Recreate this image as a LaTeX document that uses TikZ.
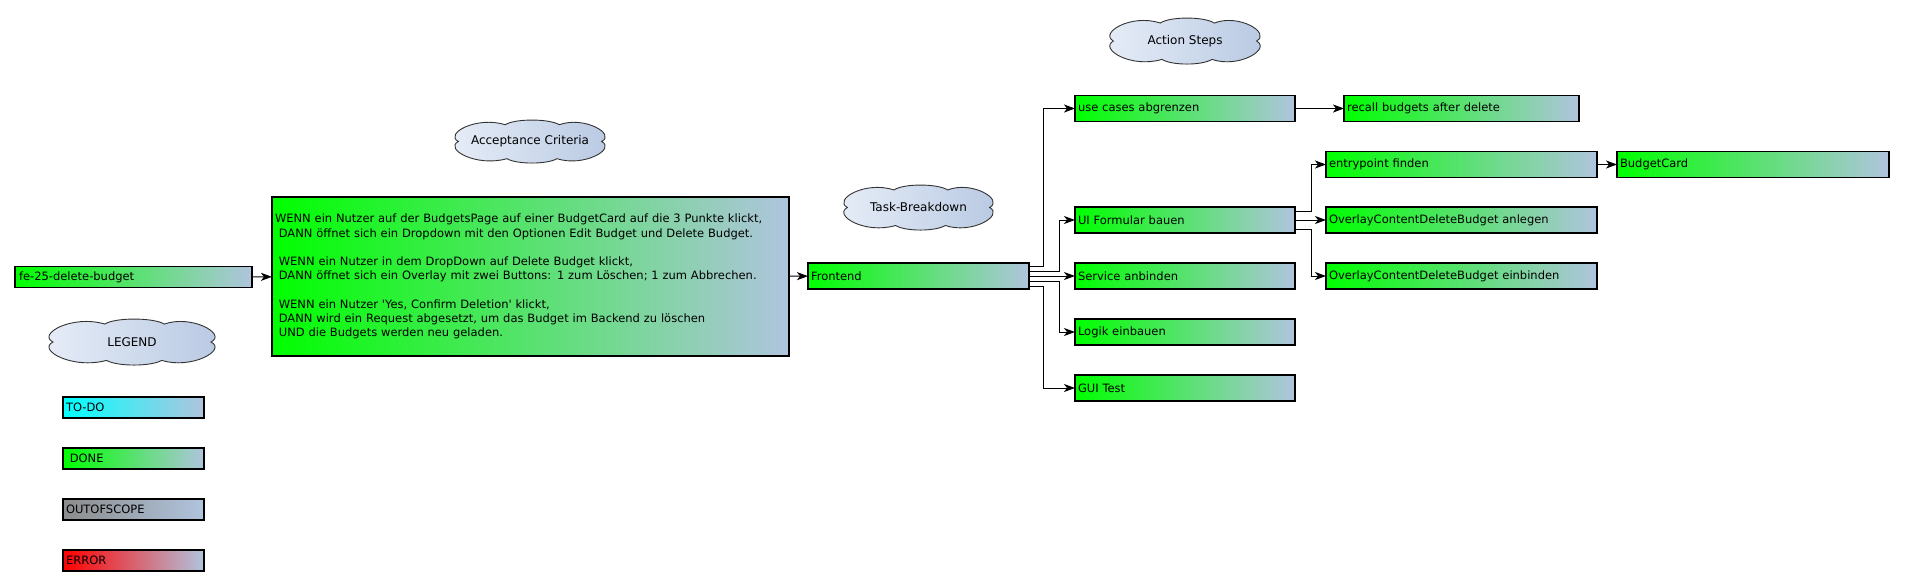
\documentclass[tikz,border=0pt]{standalone}
\usepackage{fontspec}
\setmainfont{DejaVu Sans}[Ligatures=TeXOff]
\usetikzlibrary{arrows.meta}
\definecolor{lsb}{RGB}{176,196,222}
\definecolor{gr}{RGB}{0,255,0}
\definecolor{cy}{RGB}{0,255,255}
\definecolor{gy}{RGB}{140,140,140}
\definecolor{rd}{RGB}{255,0,0}
\definecolor{cl}{RGB}{232,238,248}
\definecolor{cr}{RGB}{183,200,226}
\tikzset{
  box/.style={draw=black, line width=1.1pt, rectangle, inner xsep=3pt, inner ysep=0pt, outer sep=0pt,
    align=left, anchor=center, right color=lsb, font=\fontsize{11.5}{14.2}\selectfont},
  done/.style={box, left color=gr},
  todo/.style={box, left color=cy},
  oos/.style={box, left color=gy},
  err/.style={box, left color=rd},
  bubbleline/.style={draw=black!80, line width=0.9pt, left color=cl, right color=cr},
  bubbletext/.style={inner sep=0pt, font=\fontsize{12}{14}\selectfont},
  arr/.style={draw=black, line width=1pt, -{Stealth[length=11pt,width=8pt,inset=3pt]}},
}
% name, x, y, width, height, text
\newcommand\mycloud[6]{%
  \begin{scope}[shift={(#2,#3)}, xscale=#4/2, yscale=-#5/2]
    \path[bubbleline] (-0.93,0)
      .. controls (-1.12,0.35) and (-0.7,1.2) .. (-0.32,0.78)
      .. controls (-0.2,1.07) and (0.25,1.07) .. (0.38,0.78)
      .. controls (0.7,1.2) and (1.12,0.35) .. (0.93,0)
      .. controls (1.12,-0.35) and (0.7,-1.2) .. (0.35,-0.8)
      .. controls (0.22,-1.07) and (-0.17,-1.07) .. (-0.3,-0.8)
      .. controls (-0.7,-1.2) and (-1.12,-0.35) .. (-0.93,0) -- cycle;
  \end{scope}
  \node[bubbletext] (#1) at (#2,#3) {#6};
}
\begin{document}
\begin{tikzpicture}[x=1pt,y=-1pt]
\useasboundingbox (0,0) rectangle (1905,586);
% clouds
\mycloud{accl}{530}{141.5}{154}{43}{Acceptance Criteria}
\mycloud{tbcl}{918.5}{207.5}{153}{45}{Task-Breakdown}
\mycloud{ascl}{1185}{41}{154}{46}{Action Steps}
\mycloud{lgcl}{132}{342}{170}{46}{LEGEND}
% main boxes
\node[done, text width=229pt, inner xsep=4pt, minimum height=21pt] (fe25) at (133.5,277) {fe-25-delete-budget};
\node[done, text width=511pt, minimum height=159pt] (acc) at (530.5,276.5) {WENN ein Nutzer auf der BudgetsPage auf einer BudgetCard auf die 3 Punkte klickt,\\
\ DANN öffnet sich ein Dropdown mit den Optionen Edit Budget und Delete Budget.\\[14.2pt]
\ WENN ein Nutzer in dem DropDown auf Delete Budget klickt,\\
\ DANN öffnet sich ein Overlay mit zwei Buttons: 1 zum Löschen; 1 zum Abbrechen.\\[14.2pt]
\ WENN ein Nutzer 'Yes, Confirm Deletion' klickt,\\
\ DANN wird ein Request abgesetzt, um das Budget im Backend zu löschen\\
\ UND die Budgets werden neu geladen.};
\node[done, text width=215pt, minimum height=26pt] (fe) at (918.5,276) {Frontend};
\node[done, text width=214pt, minimum height=26pt] (uc) at (1185,108.5) {use cases abgrenzen};
\node[done, text width=214pt, minimum height=26pt] (ui) at (1185,220) {UI Formular bauen};
\node[done, text width=214pt, minimum height=26pt] (svc) at (1185,276) {Service anbinden};
\node[done, text width=214pt, minimum height=26pt] (lg) at (1185,332) {Logik einbauen};
\node[done, text width=214pt, minimum height=26pt] (gui) at (1185,388) {GUI Test};
\node[done, text width=229pt, minimum height=26pt] (rc) at (1461.5,108.5) {recall budgets after delete};
\node[done, text width=265pt, minimum height=26pt] (ep) at (1461.5,164.5) {entrypoint finden};
\node[done, text width=265pt, minimum height=26pt] (ao) at (1461.5,220) {OverlayContentDeleteBudget anlegen};
\node[done, text width=265pt, minimum height=26pt] (eb) at (1461.5,276) {OverlayContentDeleteBudget einbinden};
\node[done, text width=266pt, minimum height=26pt] (bc) at (1753,164.5) {BudgetCard};
% legend
\node[todo, text width=135pt, minimum height=21pt] (lto) at (133.5,407.5) {TO-DO};
\node[done, text width=135pt, minimum height=21pt] (ldo) at (133.5,458.5) {\ DONE};
\node[oos, text width=135pt, minimum height=21pt] (los) at (133.5,509.5) {OUTOFSCOPE};
\node[err, text width=135pt, minimum height=21pt] (ler) at (133.5,560.5) {ERROR};
% connectors
\draw[arr] (fe25) -- (acc);
\draw[arr] (acc) -- (fe);
\draw[arr] ([yshift=10pt]fe.east) -- ++(14,0) |- (uc.west);
\draw[arr] ([yshift=5pt]fe.east) -- ++(30,0) |- (ui.west);
\draw[arr] (fe) -- (svc);
\draw[arr] ([yshift=-5pt]fe.east) -- ++(30,0) |- (lg.west);
\draw[arr] ([yshift=-10pt]fe.east) -- ++(14,0) |- (gui.west);
\draw[arr] (uc) -- (rc);
\draw[arr] ([yshift=9pt]ui.east) -- ++(16,0) |- (ep.west);
\draw[arr] (ui) -- (ao);
\draw[arr] ([yshift=-9pt]ui.east) -- ++(16,0) |- (eb.west);
\draw[arr] (ep) -- (bc);
\end{tikzpicture}
\end{document}
